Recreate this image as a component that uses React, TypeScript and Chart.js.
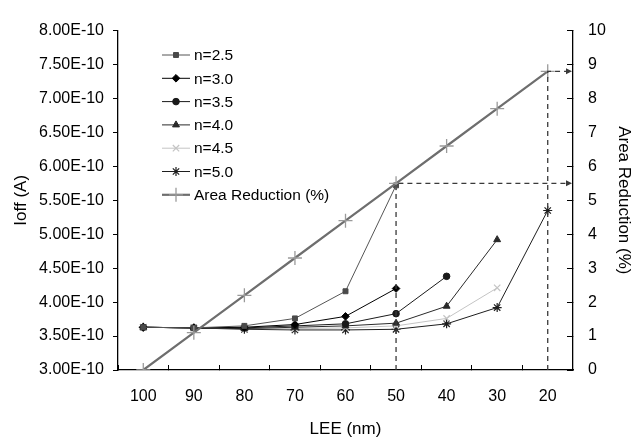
import { useEffect, useRef } from "react";
import { Chart, registerables } from "chart.js";
import { drawPoint } from "chart.js/helpers";

Chart.register(...registerables);

const categories = ["100", "90", "80", "70", "60", "50", "40", "30", "20"];
const seriesNames = ["n=2.5", "n=3.0", "n=3.5", "n=4.0", "n=4.5", "n=5.0"];
const n25 = [3.63e-10, 3.62e-10, 3.65e-10, 3.76e-10, 4.16e-10, 5.72e-10, null, null, null];
const n30 = [3.63e-10, 3.62e-10, 3.63e-10, 3.67e-10, 3.79e-10, 4.2e-10, null, null, null];
const n35 = [3.63e-10, 3.62e-10, 3.62e-10, 3.65e-10, 3.68e-10, 3.83e-10, 4.38e-10, null, null];
const n40 = [3.63e-10, 3.62e-10, 3.61e-10, 3.63e-10, 3.65e-10, 3.69e-10, 3.94e-10, 4.92e-10, null];
const n45 = [3.63e-10, 3.62e-10, 3.61e-10, 3.61e-10, 3.62e-10, 3.65e-10, 3.76e-10, 4.21e-10, null];
const n50 = [3.63e-10, 3.62e-10, 3.6e-10, 3.59e-10, 3.59e-10, 3.6e-10, 3.68e-10, 3.92e-10, 5.35e-10];
const areaName = "Area Reduction (%)";
const areaReduction = [0, 1.1, 2.2, 3.3, 4.4, 5.5, 6.6, 7.7, 8.8];
const guideCategories = ["50", "20"];
const ioffMin = 3e-10;
const ioffMax = 8e-10;
const ioffStep = 0.5e-10;
const areaMin = 0;
const areaMax = 10;
const areaStep = 1;

const FONT = "'Liberation Sans', Arial, sans-serif";

const guidePlugin = {
  id: "guides",
  afterDatasetsDraw(chart: any) {
    const ctx = chart.ctx;
    const xs = chart.scales.x;
    const yr = chart.scales.yRight;
    const area = chart.chartArea;
    ctx.save();
    ctx.strokeStyle = "#3a3a3a";
    ctx.fillStyle = "#3a3a3a";
    ctx.lineWidth = 1.3;
    guideCategories.forEach((cat) => {
      const idx = categories.indexOf(cat);
      const x = xs.getPixelForValue(idx);
      const y = yr.getPixelForValue(areaReduction[idx]);
      ctx.setLineDash([5, 4]);
      ctx.beginPath();
      ctx.moveTo(x, area.bottom);
      ctx.lineTo(x, y);
      ctx.lineTo(area.right - 6, y);
      ctx.stroke();
      ctx.setLineDash([]);
      ctx.beginPath();
      ctx.moveTo(area.right - 1, y);
      ctx.lineTo(area.right - 7, y - 3);
      ctx.lineTo(area.right - 7, y + 3);
      ctx.closePath();
      ctx.fill();
    });
    ctx.restore();
  },
};

const legendPlugin = {
  id: "boxLegend",
  afterDraw(chart: any) {
    const ctx = chart.ctx;
    ctx.save();
    const x0 = 162;
    const x1 = 190;
    const tx = 194;
    const y0 = 55;
    const dy = 23.3;
    chart.data.datasets.forEach((ds: any, i: number) => {
      const y = y0 + i * dy;
      ctx.strokeStyle = ds.borderColor;
      ctx.lineWidth = ds.borderWidth;
      ctx.setLineDash([]);
      ctx.beginPath();
      ctx.moveTo(x0, y);
      ctx.lineTo(x1, y);
      ctx.stroke();
      ctx.fillStyle = ds.pointBackgroundColor;
      ctx.strokeStyle = ds.pointBorderColor;
      ctx.lineWidth = ds.pointBorderWidth;
      drawPoint(
        ctx,
        { pointStyle: ds.pointStyle, radius: ds.pointRadius, rotation: 0, borderWidth: ds.pointBorderWidth },
        (x0 + x1) / 2,
        y
      );
      ctx.fillStyle = "#000";
      ctx.font = "15.5px " + FONT;
      ctx.textBaseline = "middle";
      ctx.textAlign = "left";
      ctx.fillText(ds.label, tx, y + 1);
    });
    ctx.restore();
  },
};

function makeSeries(label: string, data: any[], color: string, markerColor: string, style: string, radius: number, bw: number) {
  return {
    label,
    data,
    yAxisID: "yLeft",
    borderColor: color,
    borderWidth: 1,
    backgroundColor: markerColor,
    pointBackgroundColor: markerColor,
    pointBorderColor: markerColor,
    pointBorderWidth: bw,
    pointStyle: style,
    pointRadius: radius,
    tension: 0,
    spanGaps: false,
  };
}

export default function App() {
  const ref = useRef<HTMLCanvasElement>(null);
  useEffect(() => {
    if (!ref.current) return;
    const datasets: any[] = [
      makeSeries(seriesNames[0], n25, "#555555", "#4a4a4a", "rect", 3.5, 1),
      makeSeries(seriesNames[1], n30, "#000000", "#000000", "rectRot", 3.8, 1),
      makeSeries(seriesNames[2], n35, "#1a1a1a", "#1a1a1a", "circle", 3.3, 1),
      makeSeries(seriesNames[3], n40, "#2a2a2a", "#2a2a2a", "triangle", 4, 1),
      makeSeries(seriesNames[4], n45, "#c4c4c4", "#c4c4c4", "crossRot", 4.5, 1.2),
      makeSeries(seriesNames[5], n50, "#1e1e1e", "#1e1e1e", "star", 4.5, 1.2),
      {
        label: areaName,
        data: areaReduction,
        yAxisID: "yRight",
        borderColor: "#6e6e6e",
        borderWidth: 2.2,
        backgroundColor: "#9a9a9a",
        pointBackgroundColor: "#9a9a9a",
        pointBorderColor: "#9a9a9a",
        pointBorderWidth: 1.3,
        pointStyle: "cross",
        pointRadius: 7,
        tension: 0,
        order: -1,
      },
    ];
    const chart = new Chart(ref.current, {
      type: "line",
      data: { labels: categories, datasets },
      plugins: [guidePlugin, legendPlugin],
      options: {
        animation: false,
        responsive: false,
        layout: { padding: { top: 16, left: 0, right: 0, bottom: 0 } },
        plugins: { legend: { display: false }, tooltip: { enabled: false } },
        scales: {
          x: {
            type: "category",
            offset: true,
            grid: { display: true, drawOnChartArea: false, offset: true, tickLength: -5, color: "#000", lineWidth: 1 },
            border: { display: true, color: "#000", width: 1.3 },
            ticks: { color: "#000", font: { family: FONT, size: 16 }, padding: 22, maxRotation: 0, autoSkip: false },
            title: { display: true, text: "LEE (nm)", color: "#000", font: { family: FONT, size: 17 }, padding: { top: 0, bottom: 2 } },
            afterFit: (s: any) => {
              s.height = 72;
            },
          },
          yLeft: {
            type: "linear",
            position: "left",
            min: ioffMin,
            max: ioffMax,
            ticks: {
              stepSize: ioffStep,
              color: "#000",
              font: { family: FONT, size: 16 },
              padding: 9,
              callback: (v: any) => Number(v).toExponential(2).toUpperCase(),
            },
            grid: { display: true, drawOnChartArea: false, tickLength: 5, color: "#000" },
            border: { display: true, color: "#000", width: 1.3 },
            title: { display: true, text: "Ioff (A)", color: "#000", font: { family: FONT, size: 17 }, padding: { top: 11, bottom: 0 } },
            afterFit: (s: any) => {
              s.width = 118;
            },
          },
          yRight: {
            type: "linear",
            position: "right",
            min: areaMin,
            max: areaMax,
            ticks: { stepSize: areaStep, color: "#000", font: { family: FONT, size: 16 }, padding: 21 },
            grid: { display: true, drawOnChartArea: false, tickLength: -6, color: "#000" },
            border: { display: true, color: "#000", width: 1.3 },
            title: { display: true, text: "Area Reduction (%)", color: "#000", font: { family: FONT, size: 17 }, padding: { top: 0, bottom: 0 } },
            afterFit: (s: any) => {
              s.width = 61;
            },
          },
        },
      } as any,
    });
    return () => chart.destroy();
  }, []);
  return (
    <div style={{ position: "fixed", left: 0, top: 0, width: 634, height: 442, background: "#fff" }}>
      <canvas ref={ref} width={634} height={442} style={{ width: 634, height: 442, display: "block" }} />
    </div>
  );
}
